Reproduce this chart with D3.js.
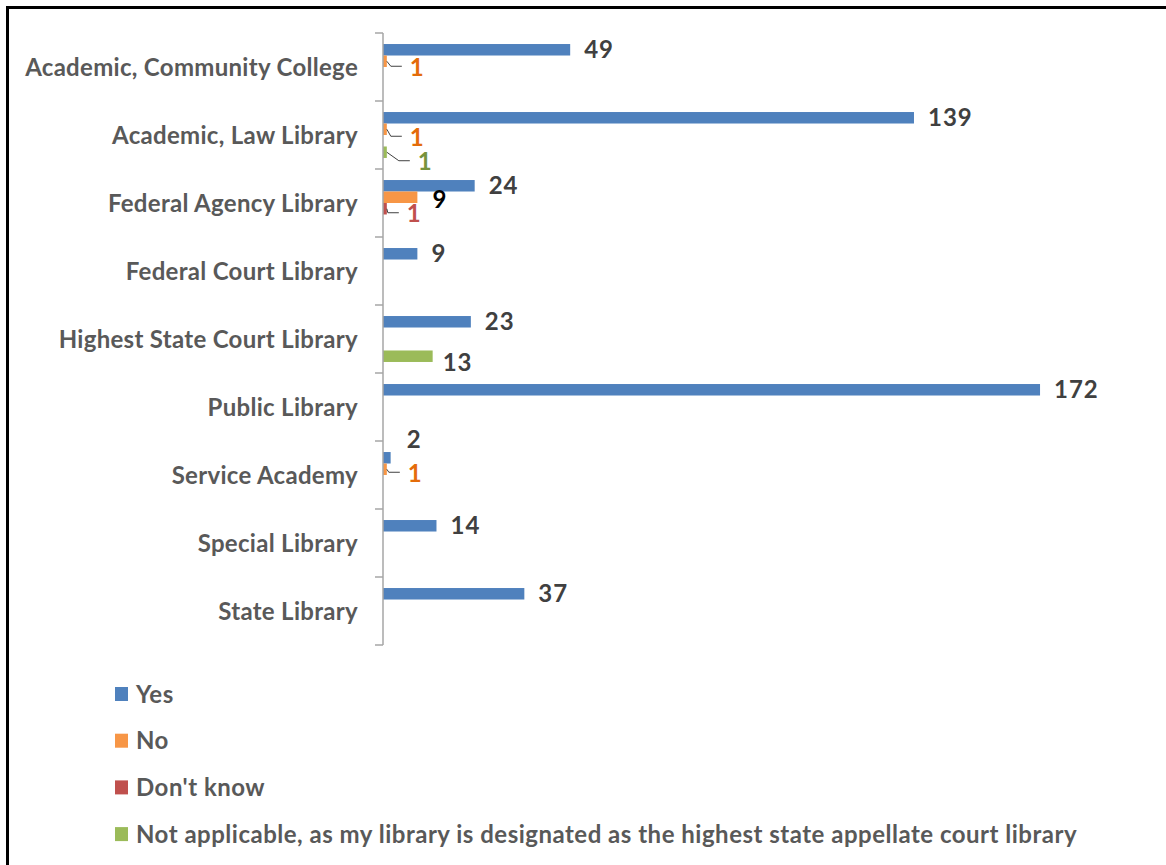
<!DOCTYPE html>
<html>
<head>
<meta charset="utf-8">
<script src="https://cdn.jsdelivr.net/npm/d3@7/dist/d3.min.js"></script>
<style>
  html, body { margin: 0; padding: 0; background: #fff; }
  svg { display: block; }
  text { font-family: Lato, "Open Sans", sans-serif; font-weight: 700; letter-spacing: 0.35px; }
</style>
</head>
<body>
<svg id="chart" width="1166" height="865"></svg>
<script>
// Library types surveyed
const categories = [
  "Academic, Community College",
  "Academic, Law Library",
  "Federal Agency Library",
  "Federal Court Library",
  "Highest State Court Library",
  "Public Library",
  "Service Academy",
  "Special Library",
  "State Library"
];

// Responses per library type (null = no responses)
const yesValues = [49, 139, 24, 9, 23, 172, 2, 14, 37];
const noValues = [1, 1, 9, null, null, null, 1, null, null];
const dontKnowValues = [null, null, 1, null, null, null, null, null, null];
const notApplicableValues = [null, 1, null, null, 13, null, null, null, null];

const seriesNames = [
  "Yes",
  "No",
  "Don't know",
  "Not applicable, as my library is designated as the highest state appellate court library"
];

const series = [
  { key: "yes", name: seriesNames[0], values: yesValues, fill: "#4F81BD", ink: "#E46C0A" },
  { key: "no", name: seriesNames[1], values: noValues, fill: "#F79646", ink: "#E46C0A" },
  { key: "dk", name: seriesNames[2], values: dontKnowValues, fill: "#C0504D", ink: "#C0504D" },
  { key: "na", name: seriesNames[3], values: notApplicableValues, fill: "#9BBB59", ink: "#77933C" }
];

// Hand-placed data labels (dx, dy from the default spot; leader = callout line)
const labelNudge = {
  "no|0": { dx: 9, dy: 6, leader: true },
  "no|1": { dx: 9, dy: 8, leader: true },
  "na|1": { dx: 17, dy: 9.5, leader: true },
  "dk|2": { dx: 6, dy: 5, leader: true },
  "no|6": { dx: 7, dy: 4, leader: true },
  "yes|6": { dx: 2, dy: -18 },
  "na|4": { dx: -4, dy: 6.5 },
  "no|2": { dx: 1, dy: 2, black: true }
};

const FONT_SIZE = "24px";
const svg = d3.select("#chart");

// Outer frame
svg.append("path")
  .attr("d", "M7.5,900 L7.5,7.5 L1200,7.5")
  .attr("fill", "none")
  .attr("stroke", "#000")
  .attr("stroke-width", 3);

const axisX = 383;
const y = d3.scaleBand().domain(categories).range([33, 645]).paddingInner(0).paddingOuter(0);
const ySub = d3.scaleBand().domain(series.map(s => s.key)).range([0, y.bandwidth()])
  .paddingInner(0).paddingOuter(0.96);
const x = d3.scaleLinear().domain([0, 180]).range([axisX, axisX + 180 * 3.82]);

// Bars
const barData = [];
series.forEach(s => {
  s.values.forEach((v, i) => {
    if (v != null) barData.push({ s, v, i, cat: categories[i] });
  });
});

svg.append("g").selectAll("rect")
  .data(barData)
  .join("rect")
  .attr("x", x(0))
  .attr("y", d => y(d.cat) + ySub(d.s.key))
  .attr("width", d => x(d.v) - x(0))
  .attr("height", ySub.bandwidth())
  .attr("fill", d => d.s.fill);

// Category axis: labels via d3.axisLeft, boundary ticks drawn from the band scale
const axisG = svg.append("g")
  .attr("transform", `translate(${axisX},0)`)
  .call(d3.axisLeft(y).tickSize(0).tickPadding(25));
axisG.select(".domain").remove();
axisG.selectAll("text")
  .attr("fill", "#595959")
  .style("font-size", FONT_SIZE)
  .style("font-family", "Lato, sans-serif")
  .style("font-weight", 700)
  .style("letter-spacing", "0.3px")
  .attr("dy", "0.36em");

const bounds = categories.map(c => y(c)).concat([y.range()[1]]);
svg.append("line")
  .attr("x1", axisX).attr("x2", axisX)
  .attr("y1", bounds[0]).attr("y2", bounds[bounds.length - 1])
  .attr("stroke", "#A6A6A6").attr("stroke-width", 1.5);
svg.append("g").selectAll("line")
  .data(bounds)
  .join("line")
  .attr("x1", axisX - 8).attr("x2", axisX)
  .attr("y1", d => d).attr("y2", d => d)
  .attr("stroke", "#A6A6A6").attr("stroke-width", 1.5);

// Data labels
const labels = barData.map(d => {
  const n = labelNudge[d.s.key + "|" + d.i] || {};
  const cy = y(d.cat) + ySub(d.s.key) + ySub.bandwidth() / 2;
  const lx = x(d.v) + 14 + (n.dx || 0);
  const ly = cy + (n.dy || 0);
  return { ...d, cy, lx, ly, leader: !!n.leader, black: !!n.black };
});

svg.append("g").selectAll("path")
  .data(labels.filter(d => d.leader))
  .join("path")
  .attr("d", d => `M${x(d.v)},${d.cy} L${d.lx - 19},${d.ly - 1} L${d.lx - 8},${d.ly - 1}`)
  .attr("fill", "none")
  .attr("stroke", "#404040")
  .attr("stroke-width", 1);

svg.append("g").selectAll("text")
  .data(labels)
  .join("text")
  .attr("x", d => d.lx)
  .attr("y", d => d.ly)
  .attr("dy", "0.36em")
  .attr("fill", d => d.black ? "#000" : (d.leader ? d.s.ink : "#404040"))
  .style("font-size", FONT_SIZE)
  .style("letter-spacing", "1px")
  .text(d => d.v);

// Legend
const legend = svg.append("g").selectAll("g")
  .data(series)
  .join("g")
  .attr("transform", (d, i) => `translate(115,${694 + i * 46.7})`);
legend.append("rect")
  .attr("x", 0).attr("y", -7)
  .attr("width", 13).attr("height", 14)
  .attr("fill", d => d.fill);
legend.append("text")
  .attr("x", 21)
  .attr("dy", "0.36em")
  .attr("fill", "#595959")
  .style("font-size", FONT_SIZE)
  .style("letter-spacing", "0.5px")
  .text(d => d.name);
</script>
</body>
</html>
